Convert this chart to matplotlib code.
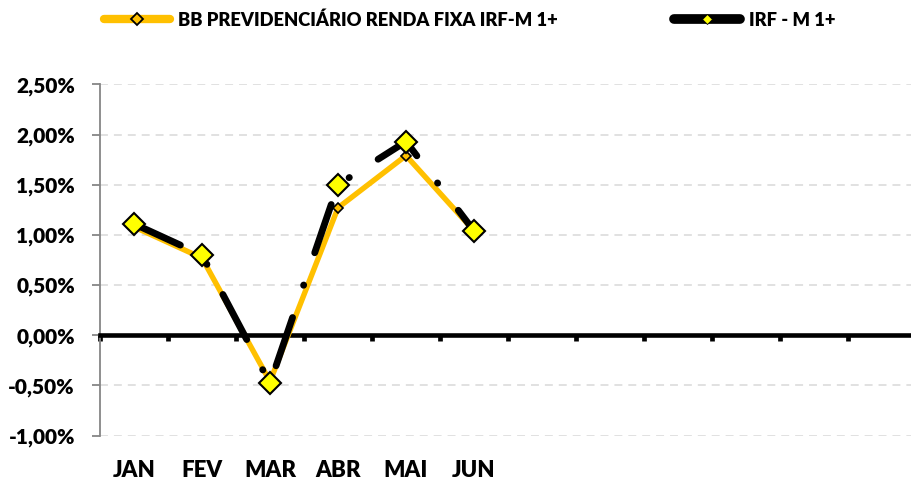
import matplotlib
matplotlib.use('Agg')
import matplotlib.pyplot as plt
from matplotlib.lines import Line2D
from matplotlib.ticker import FuncFormatter, MultipleLocator, FixedLocator

# rentabilidade mensal (%)
months = ['JAN', 'FEV', 'MAR', 'ABR', 'MAI', 'JUN']
n_slots = 12
bb_fundo = [1.08, 0.77, -0.46, 1.27, 1.79, 1.04]
irf_m1 = [1.11, 0.80, -0.48, 1.50, 1.93, 1.04]

fundo_label = 'BB PREVIDENCIÁRIO RENDA FIXA IRF-M 1+'
indice_label = 'IRF - M 1+'

GOLD = '#FFC000'
YELLOW = '#FFFF00'
GRAY = '#868686'

plt.rcParams['font.family'] = ['Lato', 'DejaVu Sans']
plt.rcParams['font.weight'] = 'heavy'

fig = plt.figure(figsize=(9.12, 4.83), dpi=100)
ax = fig.add_axes([100 / 912, 47 / 483, 816 / 912, 352 / 483])

x = [i + 0.5 for i in range(len(months))]

# linhas
ax.plot(x, bb_fundo, color=GOLD, lw=3.9, solid_capstyle='round',
        solid_joinstyle='round', zorder=3)
ax.plot(x, irf_m1, color='black', lw=4.9, dashes=(7.5, 5, 0.05, 5),
        dash_capstyle='round', zorder=4)
# marcadores
ax.plot(x, bb_fundo, ls='none', marker='D', ms=5, mfc=GOLD, mec='black',
        mew=1.2, zorder=5)
ax.plot(x, irf_m1, ls='none', marker='D', ms=11.5, mfc=YELLOW, mec='black',
        mew=1.5, zorder=6)

ax.set_xlim(0, n_slots)
ax.set_ylim(-1.003, 2.503)

for side in ('top', 'right'):
    ax.spines[side].set_visible(False)
ax.spines['left'].set_color(GRAY)
ax.spines['left'].set_linewidth(1.3)
ax.spines['bottom'].set_position(('data', 0))
ax.spines['bottom'].set_linewidth(3.3)
ax.spines['bottom'].set_zorder(2.5)

ax.xaxis.set_major_locator(FixedLocator(range(n_slots)))
ax.tick_params(axis='x', direction='out', length=4.5, width=3.4,
               color='black', labelbottom=False)

ax.yaxis.set_major_locator(MultipleLocator(0.5))
ax.yaxis.set_major_formatter(
    FuncFormatter(lambda v, p: f'{v:.2f}%'.replace('.', ',')))
ax.tick_params(axis='y', direction='out', length=6, width=1.3, color=GRAY,
               labelsize=15, pad=12, labelcolor='black')

ax.grid(axis='y', color='#D9D9D9', lw=1.1, linestyle=(0, (5.2, 3.9)),
        zorder=1)

for xi, m in zip(x, months):
    ax.text(xi, -0.097, m, transform=ax.get_xaxis_transform(),
            ha='center', va='center', fontsize=16)

h1 = Line2D([], [], color=GOLD, lw=6, solid_capstyle='round', marker='D',
            ms=6, mfc=GOLD, mec='black', mew=1.3)
h2 = Line2D([], [], color='black', lw=7, solid_capstyle='round', marker='D',
            ms=5, mfc=YELLOW, mec='black', mew=0.6)
fig.legend(handles=[h1, h2], labels=[fundo_label, indice_label],
           loc='center left', bbox_to_anchor=(104 / 912, 1 - 20 / 483),
           ncol=2, frameon=False, fontsize=13.2, handlelength=3.6,
           handletextpad=0.45, columnspacing=6.35, borderpad=0,
           borderaxespad=0)

fig.savefig('out.png', dpi=100)
